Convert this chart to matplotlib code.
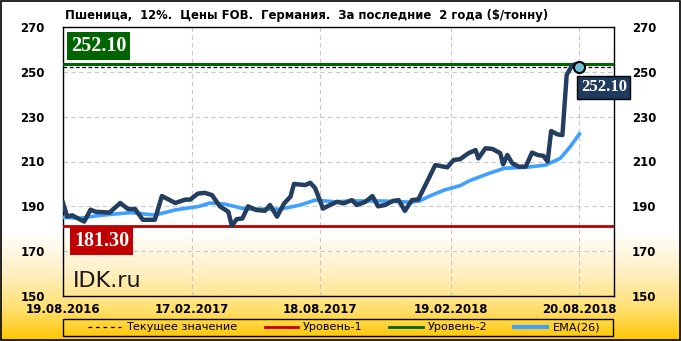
import matplotlib
matplotlib.use('Agg')
import matplotlib.pyplot as plt
import matplotlib.dates as mdates
from matplotlib.colors import LinearSegmentedColormap
from matplotlib.lines import Line2D
import numpy as np
import pandas as pd

# цены, $/т
price_dates = ['2016-08-19', '2016-08-25', '2016-09-01', '2016-09-08', '2016-09-18', '2016-09-27',
               '2016-10-04', '2016-10-24', '2016-11-08', '2016-11-19', '2016-11-29', '2016-12-10',
               '2016-12-27', '2017-01-06', '2017-01-25', '2017-02-08', '2017-02-15', '2017-02-26',
               '2017-03-08', '2017-03-18', '2017-03-29', '2017-04-10', '2017-04-15', '2017-04-22',
               '2017-04-30', '2017-05-08', '2017-05-19', '2017-06-01', '2017-06-08', '2017-06-18',
               '2017-06-28', '2017-07-07', '2017-07-12', '2017-07-28', '2017-08-04', '2017-08-11',
               '2017-08-22', '2017-09-01', '2017-09-11', '2017-09-20', '2017-10-02', '2017-10-09',
               '2017-10-21', '2017-10-31', '2017-11-08', '2017-11-18', '2017-11-29', '2017-12-07',
               '2017-12-16', '2017-12-26', '2018-01-04', '2018-01-28', '2018-02-14', '2018-02-23',
               '2018-03-04', '2018-03-16', '2018-03-26', '2018-03-30', '2018-04-09', '2018-04-19',
               '2018-04-30', '2018-05-04', '2018-05-10', '2018-05-17', '2018-05-26', '2018-06-05',
               '2018-06-14', '2018-06-22', '2018-06-30', '2018-07-06', '2018-07-11', '2018-07-20',
               '2018-07-27', '2018-08-02', '2018-08-10', '2018-08-17', '2018-08-20']
price_values = [191.5, 185.4, 186.0, 184.8, 183.2, 188.5,
                187.6, 187.2, 191.5, 188.8, 188.8, 184.0,
                184.0, 194.6, 191.5, 193.0, 193.0, 195.7,
                196.0, 195.0, 190.0, 187.6, 181.3, 184.3,
                184.6, 190.0, 188.4, 188.0, 190.6, 185.4,
                191.3, 194.3, 200.0, 199.5, 200.5, 198.1,
                189.0, 190.6, 192.0, 191.3, 192.8, 190.6,
                192.0, 194.6, 190.0, 190.6, 192.4, 192.8,
                188.0, 192.8, 193.1, 208.4, 207.4, 210.7,
                211.0, 213.7, 215.1, 211.4, 215.9, 215.6,
                213.7, 208.7, 212.9, 209.2, 207.7, 207.7,
                214.0, 212.9, 212.5, 210.0, 223.6, 222.1,
                221.8, 248.6, 253.0, 253.5, 252.1]

ema_dates = ['2016-08-19', '2016-09-12', '2016-10-11', '2016-11-23', '2016-12-27', '2017-01-25',
             '2017-02-28', '2017-03-15', '2017-04-05', '2017-05-04', '2017-06-01', '2017-06-22',
             '2017-07-21', '2017-08-11', '2017-09-09', '2017-10-01', '2017-11-12', '2017-12-16',
             '2017-12-23', '2018-01-06', '2018-01-20', '2018-02-10', '2018-03-04', '2018-03-18',
             '2018-04-14', '2018-05-06', '2018-06-05', '2018-07-03', '2018-07-24', '2018-08-07',
             '2018-08-20']
ema_values = [185.1, 184.7, 186.0, 187.2, 186.1, 188.4,
              190.0, 191.5, 191.0, 188.8, 188.8, 188.7,
              190.6, 192.8, 192.0, 192.4, 192.4, 192.0,
              191.8, 192.4, 194.6, 197.3, 199.2, 201.5,
              204.7, 207.0, 207.4, 208.4, 211.4, 216.6,
              222.3]

current = 252.1
level1 = 181.3
level2 = 253.7
level1_label = '181.30'
level2_label = '252.10'
current_label = '252.10'

tick_dates = ['2016-08-19', '2017-02-17', '2017-08-18', '2018-02-19', '2018-08-20']
yticks = [150, 170, 190, 210, 230, 250, 270]
title = 'Пшеница,  12%.  Цены FOB.  Германия.  За последние  2 года ($/тонну)'
legend_labels = ['Текущее значение', 'Уровень-1', 'Уровень-2', 'EMA(26)']

px = pd.to_datetime(price_dates)
ex = pd.to_datetime(ema_dates)
tx = pd.to_datetime(tick_dates)

W, H = 681, 341
fig = plt.figure(figsize=(W / 100, H / 100), dpi=100)

# фон с градиентом
bg = fig.add_axes([0, 0, 1, 1], zorder=-10)
bg.axis('off')
cmap = LinearSegmentedColormap.from_list('bg', [(0, '#FFFFFF'), (0.68, '#FFFFFF'), (0.8, '#FFF0C4'),
                                                (0.91, '#FFDF6E'), (1.0, '#FFC600')])
grad = np.linspace(0, 1, H).reshape(-1, 1)
bg.imshow(grad, aspect='auto', cmap=cmap, extent=[0, 1, 0, 1], origin='upper')
bg.set_xlim(0, 1)
bg.set_ylim(0, 1)
bg.add_patch(plt.Rectangle((0.001, 0.002), 0.997, 0.995, fill=False, ec='black', lw=1.2))
# рамка легенды
bg.add_patch(plt.Rectangle((63 / W, 1 - 336 / H), 550 / W, 17 / H, fill=False, ec='black', lw=1))

ax = fig.add_axes([63 / W, 1 - 296 / H, 551 / W, 269 / H])
ax.patch.set_alpha(0)

ax.set_ylim(150, 270)
ax.set_xlim(pd.Timestamp('2016-08-19'), pd.Timestamp('2018-10-08'))
ax.set_yticks(yticks)
ax.set_xticks(tx)
ax.xaxis.set_major_formatter(mdates.DateFormatter('%d.%m.%Y'))
ax.grid(True, color='#C8C8C8', linestyle=(0, (4, 3)), lw=0.8)
ax.tick_params(length=0, labelsize=8.5)
ax.tick_params(axis='y', labelright=True, pad=13)
ax.tick_params(axis='x', pad=5)
fig.canvas.draw()
for lab in ax.get_xticklabels() + ax.get_yticklabels():
    lab.set_fontweight('bold')
for t in ax.yaxis.get_major_ticks():
    t.label2.set_fontweight('bold')
for sp in ax.spines.values():
    sp.set_color('black')
    sp.set_linewidth(1)

ax.axhline(level2, color='#006400', lw=2.2, zorder=3)
ax.axhline(current, color='black', lw=0.9, ls=(0, (3, 2)), zorder=3)
ax.axhline(level1, color='#C00000', lw=2, zorder=3)
ax.plot(ex, ema_values, color='#3FA0FF', lw=2.6, zorder=4)
ax.plot(px, price_values, color='#233E5E', lw=3.2, zorder=5, solid_joinstyle='round')
ax.plot(px[-1], price_values[-1], 'o', ms=8, mfc='#6EC1D6', mec='black', mew=1.5, zorder=6)

font_box = dict(family='Liberation Serif', weight='bold', color='white')
ax.text(0.0145, 0.931, level2_label, transform=ax.transAxes, fontsize=14.5, va='center', ha='left',
        bbox=dict(boxstyle='square,pad=0.2', fc='#006400', ec='none'), **font_box)
ax.text(0.02, 0.203, level1_label, transform=ax.transAxes, fontsize=14.5, va='center', ha='left',
        bbox=dict(boxstyle='square,pad=0.2', fc='#C00000', ec='none'), **font_box)
ax.annotate(current_label, xy=(px[-1], current), xytext=(1, -14.5), textcoords='offset points',
            fontsize=12, va='center', ha='left', zorder=7,
            bbox=dict(boxstyle='square,pad=0.2', fc='#1F3A5F', ec='black', lw=1), **font_box)

ax.text(0.018, 0.02, 'IDK.ru', transform=ax.transAxes, fontsize=16, color='#1A1A1A',
        family='DejaVu Sans', va='bottom', ha='left')

fig.text(65 / W, 1 - 16 / H, title, fontsize=8.4, fontweight='bold', va='center', ha='left')

handles = [Line2D([], [], color='black', lw=0.9, ls=(0, (3, 3))),
           Line2D([], [], color='#C00000', lw=2),
           Line2D([], [], color='#006400', lw=2),
           Line2D([], [], color='#3FA0FF', lw=3)]
leg = fig.legend(handles, legend_labels, loc='center left', ncol=4,
                 bbox_to_anchor=(88 / W, 1 - 327.5 / H), fontsize=8.1,
                 frameon=False, handlelength=2.95, columnspacing=2.4,
                 handletextpad=0.45, borderpad=0, borderaxespad=0)

fig.savefig('out.png', dpi=100)
